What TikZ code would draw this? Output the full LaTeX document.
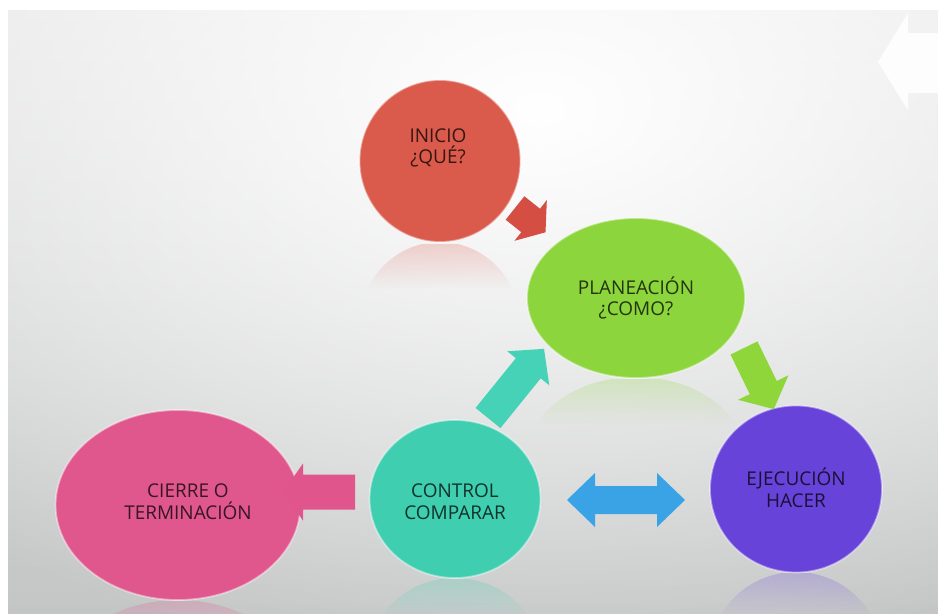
\documentclass[tikz,border=0pt]{standalone}
\usepackage{fontspec}
\setmainfont{Open Sans}
\usetikzlibrary{shapes.geometric,fadings}

\definecolor{bgtop}{HTML}{E4E4E4}
\definecolor{bgbot}{HTML}{C4C6C6}
\definecolor{cinicio}{HTML}{DA5A4C}
\definecolor{cplan}{HTML}{8DD53C}
\definecolor{cejec}{HTML}{6843D9}
\definecolor{ccontrol}{HTML}{3FCEAF}
\definecolor{ccierre}{HTML}{E0578D}
\definecolor{ared}{HTML}{D44E44}
\definecolor{ateal}{HTML}{45D2B7}
\definecolor{agreen}{HTML}{8ED63A}
\definecolor{apink}{HTML}{E0558B}
\definecolor{ablue}{HTML}{3AA3E6}

\tikzfading[name=glowfade, inner color=transparent!0, outer color=transparent!100]
\tikzfading[name=reflfade, top color=transparent!76, bottom color=transparent!100]

% block arrow: x, y, angle, shaft length, head length, shaft width, head width, colour
\newcommand\fatarrow[8]{%
  \begin{scope}[shift={(#1,#2)}, rotate=#3]
    \fill[#8] (0,-#6/2) -- (#4,-#6/2) -- (#4,-#7/2) -- (#4+#5,0)
      -- (#4,#7/2) -- (#4,#6/2) -- (0,#6/2) -- cycle;
  \end{scope}}

% faint mirror image below a bubble
\newcommand\mirrorglow[6]{% cx, cy of mirrored centre, rx, ry, top y, colour
  \begin{scope}
    \clip (#1,#2) ellipse (#3 and #4);
    \fill[#6, path fading=reflfade] (#1-#3,#5) rectangle (#1+#3,#5+45);
  \end{scope}}

\tikzset{
  bubble/.style={ellipse, inner sep=0pt, draw=white, draw opacity=0.45, line width=1pt},
  lbl/.style={font=\fontsize{10.8}{12.4}\selectfont, align=center, text=black, text opacity=0.75, inner sep=0pt},
}

\begin{document}
\begin{tikzpicture}[x=0.02cm, y=-0.02cm]
\useasboundingbox (0,0) rectangle (938,613);
\fill[white] (0,0) rectangle (938,613);

% slide background
\shade[top color=bgtop, bottom color=bgbot] (8,10) rectangle (938,613);
\begin{scope}
  \clip (8,10) rectangle (938,613);
  \fill[white, path fading=glowfade] (540,110) ellipse (900 and 560);
\end{scope}

% white arrow at the top right
\fill[white, opacity=0.9] (878,62) -- (908,13) -- (908,33) -- (938,33)
  -- (938,93) -- (908,93) -- (908,110) -- cycle;

% reflections
\mirrorglow{440}{324}{80}{82}{244}{cinicio}
\mirrorglow{636}{457}{109}{80}{379}{cplan}
\mirrorglow{455}{658}{86}{80}{579}{ccontrol}
\mirrorglow{796}{656}{86}{84}{573}{cejec}
\mirrorglow{178}{692}{122}{92}{601}{ccierre}

% bubbles
\node[bubble, fill=cinicio, minimum width=3.22cm, minimum height=3.24cm] (inicio) at (440,161) {};
\node[bubble, fill=cplan, minimum width=4.36cm, minimum height=3.2cm] (plan) at (636,298) {};
\node[bubble, fill=cejec, minimum width=3.44cm, minimum height=3.34cm] (ejec) at (796,489) {};
\node[bubble, fill=ccontrol, minimum width=3.42cm, minimum height=3.16cm] (control) at (455,499) {};
\node[bubble, fill=ccierre, minimum width=4.9cm, minimum height=3.8cm] (cierre) at (178,505) {};

% labels
\node[lbl] (inicioT) at (438,148) {INICIO\\¿QUÉ?};
\node[lbl] (planT) at (636,298) {PLANEACIÓN\\¿COMO?};
\node[lbl] (ejecT) at (796,488) {EJECUCIÓN\\HACER};
\node[lbl] (controlT) at (455,502) {CONTROL\\COMPARAR};
\node[lbl] (cierreT) at (188,502) {CIERRE O\\TERMINACIÓN};

% block arrows between the stages
\fatarrow{515}{208}{-38.5}{20}{19}{30}{52}{ared}
\fatarrow{488}{418}{51}{64}{25}{32}{54}{ateal}
\fatarrow{744}{348}{-64}{44}{24}{30}{56}{agreen}
\fatarrow{355}{492}{180}{52}{20}{35}{57}{apink}
\fill[ablue] (567,500) -- (595,473) -- (595,486) -- (657,486) -- (657,473)
  -- (685,500) -- (657,527) -- (657,514) -- (595,514) -- (595,527) -- cycle;
\end{tikzpicture}
\end{document}
